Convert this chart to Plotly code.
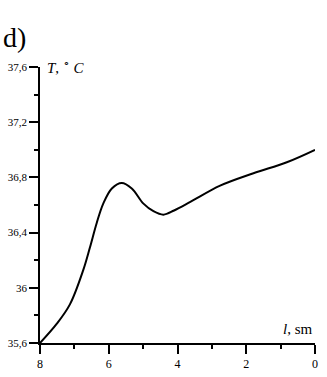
import plotly.graph_objects as go

l_sm = [8.0, 7.51, 7.13, 6.74, 6.55, 6.35, 6.16, 5.91, 5.62, 5.33, 4.99, 4.70, 4.41, 4.10, 3.64, 2.76, 1.79, 0.82, 0.0]
temp = [35.6, 35.74, 35.88, 36.13, 36.29, 36.47, 36.61, 36.72, 36.76, 36.72, 36.61, 36.555, 36.53, 36.56, 36.62, 36.74, 36.83, 36.91, 37.0]

x_ticks = [8, 6, 4, 2, 0]
x_labels = ["8", "6", "4", "2", "0"]
y_ticks = [35.6, 36.0, 36.4, 36.8, 37.2, 37.6]
y_labels = ["35,6", "36", "36,4", "36,8", "37,2", "37,6"]

serif = "Liberation Serif, Times New Roman, serif"

fig = go.Figure()
fig.add_trace(go.Scatter(x=l_sm, y=temp, mode="lines",
                         line=dict(color="black", width=2, shape="spline", smoothing=1.0),
                         showlegend=False, hoverinfo="skip"))

fig.update_layout(
    width=327, height=377,
    margin=dict(l=40, r=12, t=67, b=34, autoexpand=False),
    paper_bgcolor="white", plot_bgcolor="white",
    font=dict(family=serif, color="black", size=11),
    xaxis=dict(range=[8, 0], showgrid=False, zeroline=False, showline=True, automargin=False,
               linecolor="black", linewidth=1.5, ticks="outside", ticklen=9,
               tickcolor="black", tickwidth=1.5,
               tickmode="array", tickvals=x_ticks, ticktext=x_labels,
               tickfont=dict(family=serif, size=12),
               minor=dict(ticks="outside", ticklen=4, dtick=1, tick0=0, tickcolor="black", tickwidth=1.5, showgrid=False)),
    yaxis=dict(range=[35.6, 37.6], showgrid=False, zeroline=False, showline=True, automargin=False,
               linecolor="black", linewidth=1.5, ticks="outside", ticklen=9,
               tickcolor="black", tickwidth=1.5,
               tickmode="array", tickvals=y_ticks, ticktext=y_labels,
               tickfont=dict(family=serif, size=11),
               minor=dict(ticks="outside", ticklen=4, dtick=0.2, tick0=35.6, tickcolor="black", tickwidth=1.5, showgrid=False)),
    annotations=[
        dict(text="d)", xref="paper", yref="paper", x=-40/275, y=1 + 47/276.6,
             xanchor="left", yanchor="top", showarrow=False,
             font=dict(family=serif, size=28, color="black"), xshift=1),
        dict(text="<i>T</i>, <sup>∘</sup> <i>C</i>", xref="paper", yref="paper", x=0, y=1,
             xanchor="left", yanchor="middle", showarrow=False, xshift=5,
             font=dict(family=serif, size=15, color="black")),
        dict(text="<i>l</i>, sm", xref="paper", yref="paper", x=1, y=0,
             xanchor="right", yanchor="bottom", showarrow=False, yshift=4,
             font=dict(family=serif, size=15, color="black")),
    ],
)

fig.write_html("out.html", config={"displayModeBar": False},
               post_script="document.body.style.margin='0';")
